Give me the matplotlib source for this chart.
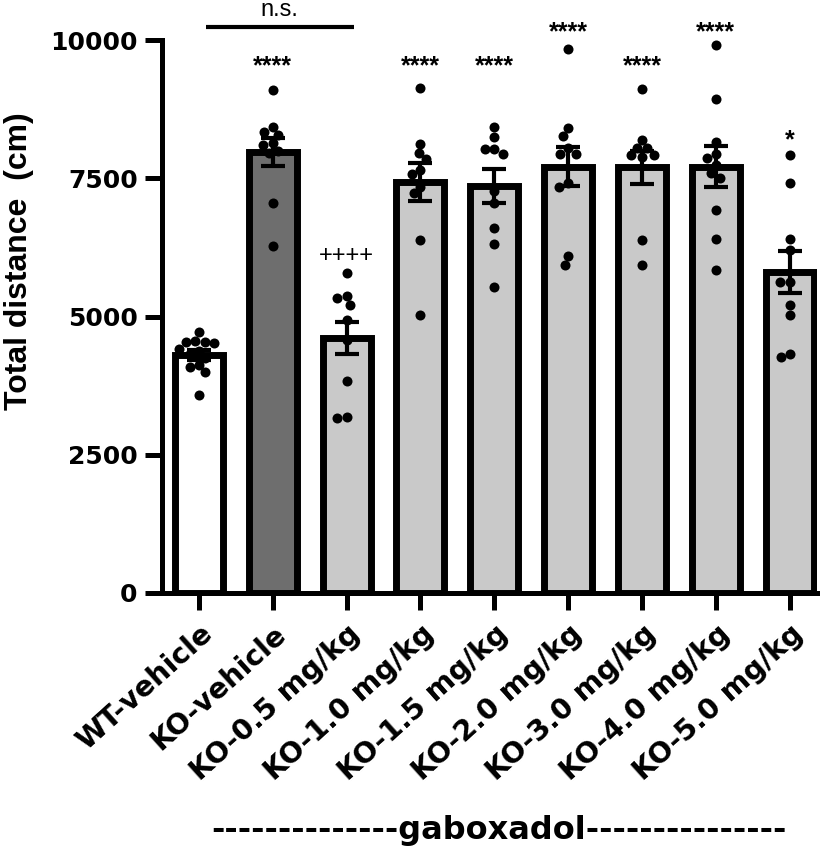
import numpy as np
import matplotlib
matplotlib.use('Agg')
import matplotlib.pyplot as plt
import matplotlib.transforms as mtransforms
from matplotlib.transforms import ScaledTranslation
from matplotlib import font_manager

# ---------------- data ----------------
categories = ['WT-vehicle', 'KO-vehicle', 'KO-0.5 mg/kg', 'KO-1.0 mg/kg', 'KO-1.5 mg/kg',
              'KO-2.0 mg/kg', 'KO-3.0 mg/kg', 'KO-4.0 mg/kg', 'KO-5.0 mg/kg']
means = [4310, 7970, 4610, 7430, 7360, 7710, 7700, 7710, 5805]
sems = [90, 255, 285, 350, 315, 350, 295, 375, 385]

wt_vehicle = [4720, 4560, 4540, 4530, 4520, 4420, 4380, 4330, 4250, 4120, 4090, 3990, 3580]
ko_vehicle = [9090, 8420, 8340, 8280, 8130, 8100, 7990, 7950, 7050, 6270]
ko_05 = [5790, 5370, 5330, 5210, 4940, 4570, 3830, 3160, 3190]
ko_10 = [9140, 8120, 7950, 7840, 7650, 7580, 7350, 7230, 6380, 5030]
ko_15 = [8430, 8250, 8020, 8020, 7940, 7270, 7050, 6600, 6310, 5530]
ko_20 = [9830, 8400, 8260, 8040, 7940, 7940, 7420, 7350, 6090, 5930]
ko_30 = [9110, 8190, 8040, 8040, 7920, 7920, 7890, 6380, 5930]
ko_40 = [9910, 8930, 8160, 7940, 7860, 7740, 7590, 7510, 6930, 6410, 5840]
ko_50 = [7920, 7420, 6410, 6210, 5630, 5630, 5210, 5030, 4270, 4330]
points = [wt_vehicle, ko_vehicle, ko_05, ko_10, ko_15, ko_20, ko_30, ko_40, ko_50]

bar_colors = ['#ffffff', '#6e6e6e'] + ['#c9c9c9'] * 7

sig_labels = ['', '****', '++++', '****', '****', '****', '****', '****', '*']
sig_y = [None, 9525, 6100, 9525, 9525, 10140, 9525, 10140, 8190]

yticks = [0, 2500, 5000, 7500, 10000]

# ---------------- fonts ----------------
names = {f.name for f in font_manager.fontManager.ttflist}
if 'Liberation Sans Narrow' in names:
    ylab_font = dict(family='Liberation Sans Narrow', weight='bold', size=27.5)
else:
    ylab_font = dict(family='Liberation Sans', weight='bold', size=23)

W, H = 835, 850
fig = plt.figure(figsize=(W / 100, H / 100), dpi=100)
ax = fig.add_axes([162 / W, 257 / H, (817 - 162) / W, 553 / H])

xlim = (-0.5, 8.37)
ax.set_xlim(*xlim)
ax.set_ylim(0, 10000)

x = np.arange(len(categories))
ax.bar(x, means, width=0.65, color=bar_colors, edgecolor='black', linewidth=5, zorder=2)

# beeswarm offsets (computed in pixel space)
xpx_per_unit = (817 - 162) / (xlim[1] - xlim[0])
ypx_per_unit = 553 / 10000


def swarm(values, d_px=9.5):
    ys = np.asarray(values, dtype=float) * ypx_per_unit
    order = np.argsort(-ys)
    placed = []
    xs = np.zeros(len(ys))
    for idx in order:
        y = ys[idx]
        cands = [0.0]
        for (px, py) in placed:
            dy = abs(py - y)
            if dy < d_px:
                dx = np.sqrt(d_px ** 2 - dy ** 2)
                cands += [px + dx, px - dx]
        cands.sort(key=lambda c: (round(abs(c), 6), c))
        for c in cands:
            if all((c - px) ** 2 + (y - py) ** 2 >= d_px ** 2 - 1e-6 for px, py in placed):
                xs[idx] = c
                break
        placed.append((xs[idx], y))
    return xs / xpx_per_unit


for i, vals in enumerate(points):
    off = swarm(vals)
    ax.scatter(i + off, vals, s=52, color='black', zorder=3, linewidths=0)

ax.errorbar(x, means, yerr=sems, fmt='none', ecolor='black', elinewidth=3,
            capsize=8.6, capthick=3, zorder=4)

# axes styling
for s in ['top', 'right']:
    ax.spines[s].set_visible(False)
for s in ['left', 'bottom']:
    ax.spines[s].set_linewidth(3.6)
ax.tick_params(axis='both', width=3.6, length=12, direction='out')
ax.tick_params(axis='y', pad=5.5)
ax.set_yticks(yticks)
ax.set_yticklabels([str(t) for t in yticks], fontfamily='DejaVu Sans',
                   fontweight='bold', fontsize=18)
ax.set_xticks(x)
ax.set_xticklabels([])

# rotated category labels
trans = mtransforms.blended_transform_factory(ax.transData, ax.transAxes)
off = ScaledTranslation(10 / 100, -37 / 100, fig.dpi_scale_trans)
for i, lab in enumerate(categories):
    ax.text(i, 0, lab, transform=trans + off, rotation=42, rotation_mode='anchor',
            ha='right', va='center', fontfamily='DejaVu Sans', fontweight='bold',
            fontsize=20.5, clip_on=False)

# significance labels
for i, (lab, yv) in enumerate(zip(sig_labels, sig_y)):
    if not lab:
        continue
    if lab.startswith('+'):
        ax.text(i, yv, lab, ha='center', va='center', fontfamily='Liberation Sans',
                fontsize=17, clip_on=False)
    else:
        ax.text(i, yv, lab, ha='center', va='center', fontfamily='Liberation Sans',
                fontweight='bold', fontsize=18, clip_on=False)

# n.s. bracket
ax.plot([0.095, 2.10], [10233, 10233], color='black', lw=3, clip_on=False,
        solid_capstyle='butt')
ax.text(1.085, 10540, 'n.s.', ha='center', va='center', fontfamily='Liberation Sans',
        fontsize=17, clip_on=False)

# y label
fig.text(19 / W, 1 - 261 / H, 'Total distance  (cm)', rotation=90, ha='center',
         va='center', **ylab_font)

# gaboxadol
fig.text(499 / W, 1 - 830 / H, '-' * 14 + 'gaboxadol' + '-' * 15, ha='center',
         va='center', fontfamily='DejaVu Sans', fontweight='bold', fontsize=23)

fig.savefig('out.png', dpi=100, facecolor='white')
